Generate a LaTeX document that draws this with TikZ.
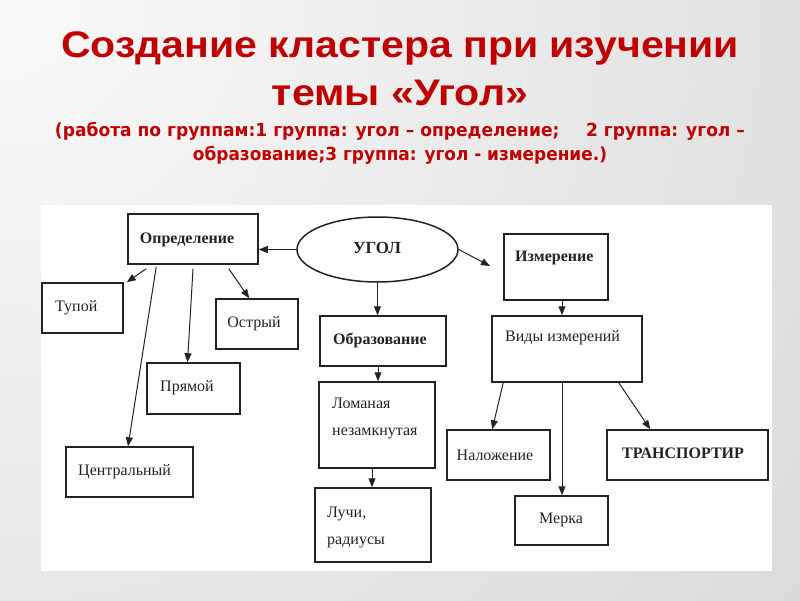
\documentclass[tikz,border=0pt]{standalone}
\usepackage{fontspec}
\setmainfont{Liberation Serif}
\newfontfamily\titlefont{Liberation Sans}
\newfontfamily\subfont{DejaVu Sans}
\usetikzlibrary{arrows.meta,shapes.geometric}
\definecolor{titlered}{RGB}{192,0,0}
\definecolor{bginner}{RGB}{250,250,250}
\definecolor{bgouter}{RGB}{188,188,188}
\definecolor{ink}{RGB}{35,35,35}
\begin{document}
\begin{tikzpicture}[x=1pt,y=-1pt,
  box/.style={draw=ink, line width=1.5pt, inner sep=0pt, rectangle},
  lbl/.style={font=\fontsize{16}{27}\selectfont, inner sep=0pt, align=left, text=ink},
  blbl/.style={lbl, font=\fontsize{16}{27}\selectfont\bfseries},
  arr/.style={draw=ink, line width=1pt, -{Triangle[length=9pt,width=7pt]}},
  ttl/.style={font=\titlefont\fontsize{37}{40}\selectfont\bfseries, text=titlered, inner sep=0pt, anchor=base},
  sub/.style={font=\subfont\fontsize{18}{20}\selectfont\bfseries, text=titlered, inner sep=0pt, anchor=base}]
\useasboundingbox (0,0) rectangle (800,600);
\begin{scope}
\clip (0,0) rectangle (800,600);
\shade[inner color=bginner, outer color=bgouter] (0,0) circle (2000pt);
\end{scope}
% title
\node[ttl] (t1) at (400,57) {\resizebox{678pt}{\height}{Создание кластера при изучении}};
\node[ttl] (t2) at (400,105) {\resizebox{256pt}{\height}{темы «Угол»}};
\node[sub] (s1) at (400,136) {\resizebox{690pt}{\height}{(работа по группам:1 группа: угол – определение;\hspace{28pt}2 группа: угол –}};
\node[sub] (s2) at (400,160) {\resizebox{414pt}{\height}{образование;3 группа: угол - измерение.)}};
% panel
\fill[white] (41,205) rectangle (772,571);
% boxes
\node[box, minimum width=130pt, minimum height=50pt] (opr) at (193,239) {};
\node[draw=ink, line width=1.5pt, ellipse, minimum width=161pt, minimum height=65pt, inner sep=0pt] (ugol) at (377.5,249.5) {};
\node[box, minimum width=104pt, minimum height=66pt] (izm) at (556,267) {};
\node[box, minimum width=150pt, minimum height=66pt] (vidy) at (567,349) {};
\node[box, minimum width=81pt, minimum height=50pt] (tupoy) at (82.5,308) {};
\node[box, minimum width=82pt, minimum height=50pt] (ostr) at (257,324) {};
\node[box, minimum width=93pt, minimum height=51pt] (pryam) at (193.5,388.5) {};
\node[box, minimum width=127pt, minimum height=50pt] (centr) at (129.5,472) {};
\node[box, minimum width=126pt, minimum height=50pt] (obraz) at (383,341) {};
\node[box, minimum width=116pt, minimum height=86pt] (loman) at (377,425) {};
\node[box, minimum width=116pt, minimum height=74pt] (luchi) at (373,525) {};
\node[box, minimum width=103pt, minimum height=50pt] (nalozh) at (498.5,455) {};
\node[box, minimum width=93pt, minimum height=49pt] (merka) at (561.5,520.5) {};
\node[box, minimum width=161pt, minimum height=50pt] (transp) at (687.5,455) {};
% texts
\node[blbl] (opr-t) at (187,240) {Определение};
\node[blbl, font=\fontsize{17}{20}\selectfont\bfseries] (ugol-t) at (377,248) {УГОЛ};
\node[blbl, anchor=west] (izm-t) at (515,258) {Измерение};
\node[lbl, anchor=west] (vidy-t) at (505,338) {Виды измерений};
\node[lbl, anchor=west] (tupoy-t) at (55,308) {Тупой};
\node[lbl] (ostr-t) at (254,324) {Острый};
\node[lbl, anchor=west] (pryam-t) at (160,388) {Прямой};
\node[lbl, anchor=west] (centr-t) at (78,472) {Центральный};
\node[blbl, anchor=west] (obraz-t) at (333,340) {Образование};
\node[lbl, anchor=west] (loman-t) at (332,418.5) {Ломаная\\незамкнутая};
\node[lbl, anchor=west] (luchi-t) at (327,527.5) {Лучи,\\радиусы};
\node[lbl] (nalozh-t) at (495,455) {Наложение};
\node[lbl] (merka-t) at (561,520) {Мерка};
\node[blbl, anchor=west] (transp-t) at (622,453) {ТРАНСПОРТИР};
% connectors
\coordinate (izmtip) at (490,266);
\draw[arr] (ugol.west) -- (ugol.west -| opr.east);
\draw[arr] (ugol.east) -- (izmtip);
\draw[arr] (ugol.south) -- (ugol.south |- obraz.north);
\draw[arr] ([xshift=-5pt]obraz.south) -- ([xshift=-5pt]obraz.south |- loman.north);
\draw[arr] ([xshift=-5pt]loman.south) -- ([xshift=-5pt]loman.south |- luchi.north);
\draw[arr] ([xshift=19pt,yshift=-4pt]opr.south west) -- ([xshift=3pt]tupoy.north east);
\draw[arr] ([xshift=-30pt,yshift=-4pt]opr.south east) -- ([xshift=34pt]ostr.north west);
\draw[arr] ([yshift=-4pt]opr.south) -- ([xshift=-6pt]pryam.north);
\draw[arr] ([xshift=29pt,yshift=-2pt]opr.south west) -- ([xshift=-1.5pt]centr.north);
\draw[arr] ([xshift=6pt]izm.south) -- ([xshift=6pt]izm.south |- vidy.north);
\draw[arr] ([xshift=12pt]vidy.south west) -- ([xshift=46pt]nalozh.north west);
\draw[arr] ([xshift=-5pt]vidy.south) -- ([xshift=-5pt]vidy.south |- merka.north);
\draw[arr] ([xshift=-24pt]vidy.south east) -- ([xshift=44pt]transp.north west);
\end{tikzpicture}
\end{document}
